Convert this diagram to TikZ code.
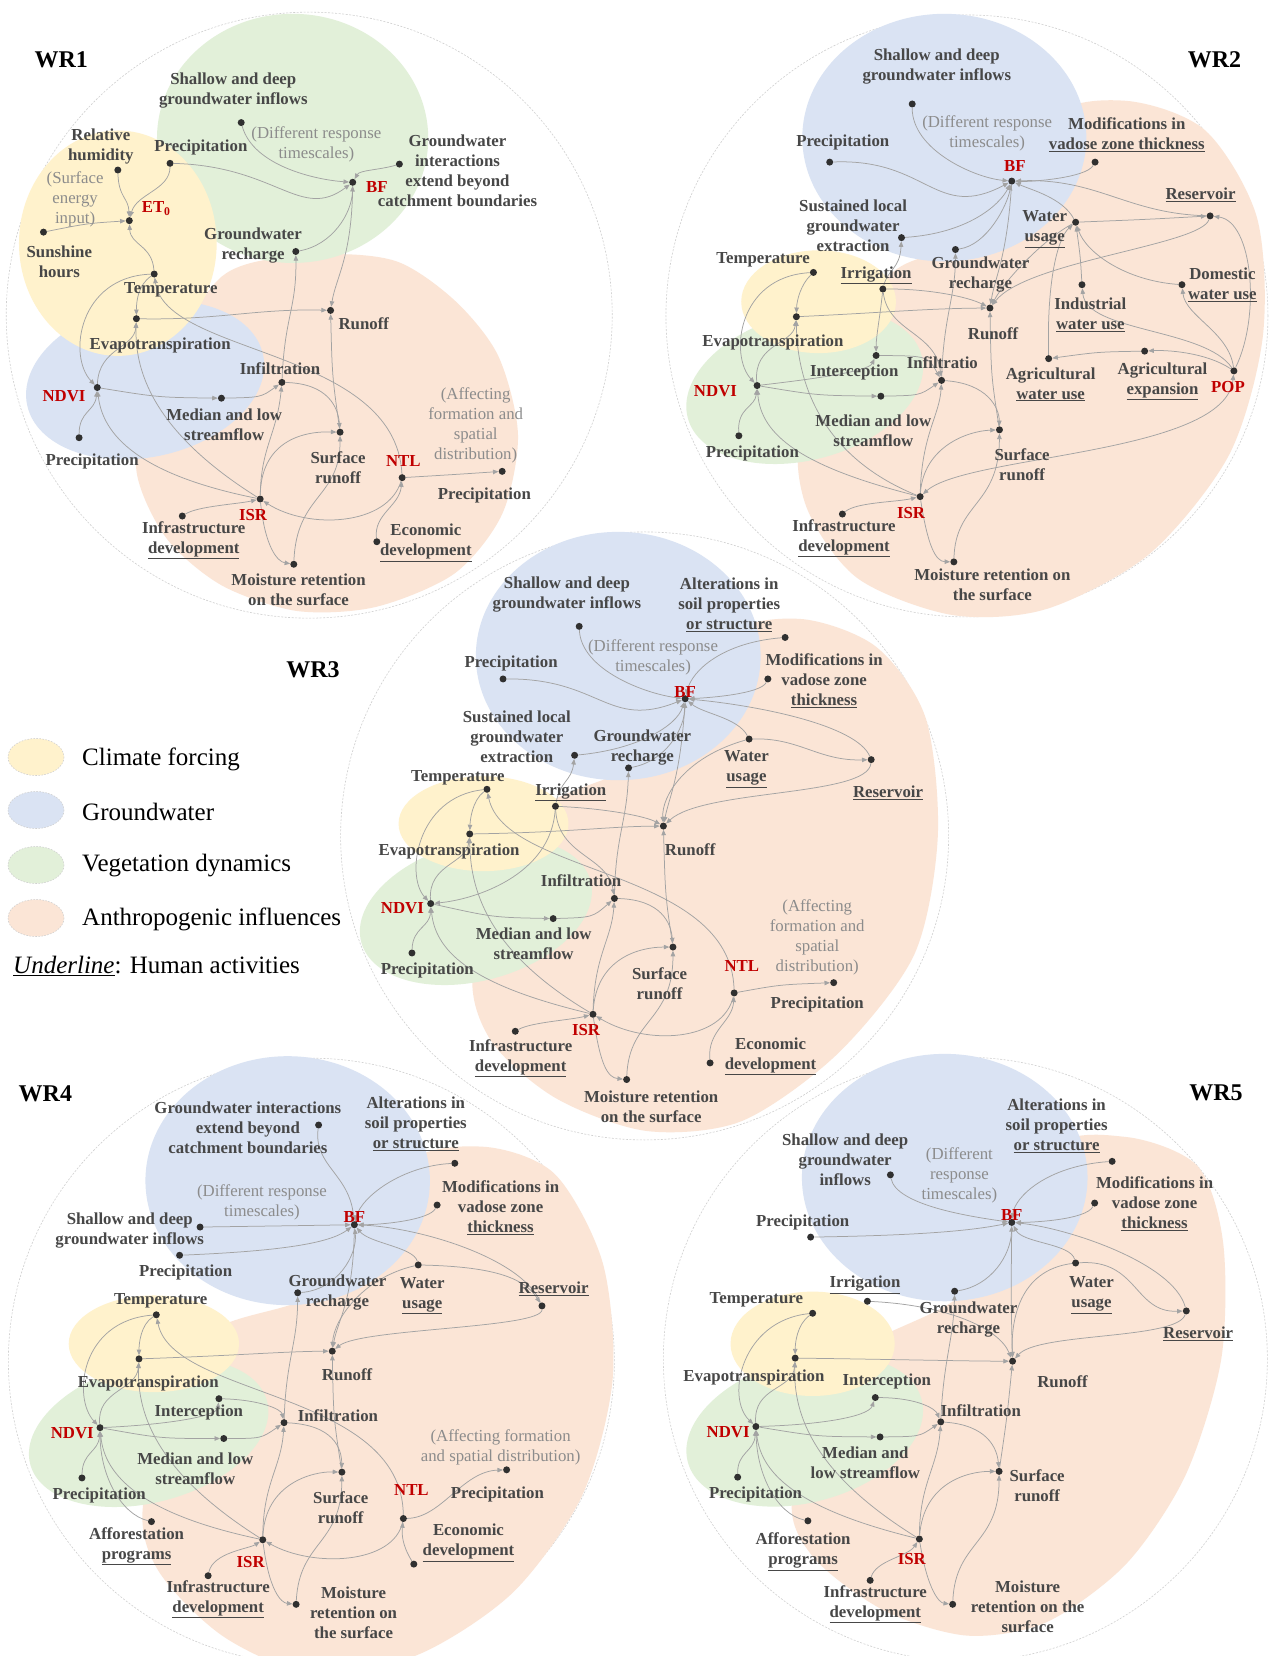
\documentclass[tikz,border=0pt]{standalone}
\usepackage{fontspec}
\setmainfont{Liberation Serif}
\usetikzlibrary{arrows.meta}
\definecolor{cyel}{HTML}{FFF2CC}
\definecolor{cblue}{HTML}{DAE3F3}
\definecolor{cgreen}{HTML}{E2F0D9}
\definecolor{cpeach}{HTML}{FBE5D6}
\definecolor{ctxt}{HTML}{474747}
\definecolor{cred}{HTML}{C00000}
\definecolor{cnote}{HTML}{8C8C8C}
\definecolor{carr}{HTML}{A3A3A3}
\definecolor{cdot}{HTML}{303030}
\definecolor{cring}{HTML}{D0D0D0}
\newcommand\dt[2]{\node[dot] (#1) at #2 {};}
\newcommand\edg[3]{\draw[ar] (#1) .. controls #2 .. (#3);}
\begin{document}
\begin{tikzpicture}[x=1pt,y=-1pt,
  dot/.style={circle, fill=cdot, inner sep=0pt, minimum size=7pt},
  lbl/.style={font=\bfseries\fontsize{16.8}{20}\selectfont, text=ctxt, align=center, inner sep=0pt},
  rlbl/.style={lbl, text=cred},
  note/.style={font=\fontsize{16.8}{20}\selectfont, text=cnote, align=center, inner sep=0pt},
  ttl/.style={font=\bfseries\fontsize{24}{28}\selectfont, text=black, inner sep=0pt},
  leg/.style={font=\fontsize{25}{30}\selectfont, text=black, anchor=west, inner sep=0pt},
  ring/.style={fill=white, draw=cring, line width=0.6pt, dash pattern=on 2pt off 1.5pt},
  legell/.style={draw=cring, line width=0.6pt, dash pattern=on 1.5pt off 1.5pt},
  ar/.style={draw=carr, line width=0.75pt, -{Triangle[length=5.5pt,width=4.5pt]}},
  arr2/.style={draw=carr, line width=0.75pt, {Triangle[length=5.5pt,width=4.5pt]}-{Triangle[length=5.5pt,width=4.5pt]}}]
\fill[white] (0,0) rectangle (1272,1656);
\useasboundingbox (0,0) rectangle (1272,1656);
\clip (0,0) rectangle (1272,1656);

% ================= WR1 =================
\begin{scope}[x=0.39541pt,y=-0.39541pt]
\path[ring] (782,797) circle [radius=303pt];
\fill[cpeach] plot[smooth cycle] coordinates {(560,700) (800,645) (1000,660) (1150,760) (1260,900) (1310,1100) (1270,1300) (1150,1450) (950,1535) (750,1545) (560,1480) (420,1360) (345,1190) (380,1000)};
\fill[cgreen] (740,350) ellipse [x radius=343, y radius=315];
\fill[cblue] (367,961) ellipse [x radius=305, y radius=195, rotate=12];
\fill[cyel] (298,615) ellipse [x radius=250, y radius=285];
\dt{Ash}{(610,310)} \dt{Apt}{(430,413)} \dt{Arh}{(298,430)} \dt{Aet}{(327,558)}
\dt{Asun}{(110,587)} \dt{Agwi}{(1010,415)} \dt{Abf}{(892,461)} \dt{Agwr}{(748,636)}
\dt{Atem}{(390,693)} \dt{Aevp}{(345,806)} \dt{Aro}{(836,785)} \dt{Ainf}{(713,967)}
\dt{Andvi}{(246,980)} \dt{Amed}{(560,1007)} \dt{Apl}{(200,1107)} \dt{Asr}{(860,1093)}
\dt{Antl}{(1017,1208)} \dt{Apr}{(1270,1192)} \dt{Aisr}{(658,1262)} \dt{Ainfra}{(461,1305)}
\dt{Aeco}{(953,1370)} \dt{Amo}{(743,1427)}
\edg{Ash}{(640,420) and (800,455)}{Abf}
\edg{Apt}{(700,420) and (760,560)}{Abf}
\edg{Apt}{(430,480) and (345,490)}{Aet}
\edg{Arh}{(300,500) and (325,500)}{Aet}
\edg{Asun}{(220,565)}{Aet}
\edg{Atem}{(385,620) and (330,620)}{Aet}
\edg{Agwi}{(960,430) and (910,430)}{Abf}
\edg{Agwr}{(840,620) and (890,540)}{Abf}
\edg{Abf}{(890,650) and (850,700)}{Aro}
\edg{Atem}{(350,720) and (345,760)}{Aevp}
\edg{Aevp}{(550,810) and (650,780)}{Aro}
\edg{Atem}{(200,700) and (170,900)}{Andvi}
\edg{Andvi}{(250,880) and (340,880)}{Aevp}
\edg{Apl}{(200,1040) and (240,1040)}{Andvi}
\edg{Andvi}{(400,1005)}{Amed}
\edg{Amed}{(660,1005)}{Ainf}
\edg{Ainf}{(720,800) and (750,780)}{Agwr}
\edg{Ainf}{(830,970) and (855,1030)}{Asr}
\edg{Aisr}{(660,1130) and (700,1100)}{Ainf}
\edg{Aisr}{(660,1120) and (760,1090)}{Asr}
\edg{Amo}{(750,1250) and (860,1260)}{Asr}
\edg{Aisr}{(670,1380) and (700,1420)}{Amo}
\edg{Ainfra}{(500,1280) and (600,1275)}{Aisr}
\edg{Antl}{(980,1330) and (780,1340)}{Aisr}
\edg{Aeco}{(945,1300) and (1010,1280)}{Antl}
\edg{Antl}{(1150,1200)}{Apr}
\edg{Antl}{(1000,880) and (420,900)}{Atem}
\edg{Aisr}{(400,1100) and (340,950)}{Aevp}
\edg{Aisr}{(350,1200) and (260,1100)}{Andvi}
\edg{Asr}{(840,950)}{Aro}
\node[lbl] (Asht) at (590,228) {Shallow and deep\\groundwater inflows};
\node[note] (Adrt) at (800,365) {(Different response\\timescales)};
\node[lbl] (Arht) at (255,371) {Relative\\humidity};
\node[lbl] (Aptt) at (508,373) {Precipitation};
\node[note] (Asft) at (190,505) {(Surface\\energy\\input)};
\node[rlbl] (Aett) at (395,528) {ET\textsubscript{0}};
\node[lbl] (Asunt) at (150,663) {Sunshine\\hours};
\node[lbl] (Agwit) at (1157,433) {Groundwater\\interactions\\extend beyond\\catchment boundaries};
\node[rlbl] (Abft) at (953,473) {BF};
\node[lbl] (Agwrt) at (640,621) {Groundwater\\recharge};
\node[lbl] (Atemt) at (432,734) {Temperature};
\node[lbl] (Aevpt) at (405,873) {Evapotranspiration};
\node[lbl] (Arot) at (920,818) {Runoff};
\node[lbl] (Ainft) at (708,932) {Infiltration};
\node[rlbl] (Andvit) at (162,1002) {NDVI};
\node[lbl] (Amedt) at (567,1073) {Median and low\\streamflow};
\node[lbl] (Aplt) at (233,1166) {Precipitation};
\node[lbl] (Asrt) at (855,1182) {Surface\\runoff};
\node[note] (Aaft) at (1203,1077) {(Affecting\\formation and\\spatial\\distribution)};
\node[rlbl] (Antlt) at (1020,1167) {NTL};
\node[lbl] (Aprt) at (1225,1253) {Precipitation};
\node[rlbl] (Aisrt) at (640,1303) {ISR};
\node[lbl] (Ainfrat) at (490,1366) {Infrastructure\\\underline{development}};
\node[lbl] (Aecot) at (1077,1373) {Economic\\\underline{development}};
\node[lbl] (Amot) at (755,1492) {Moisture retention\\on the surface};
\node[ttl] (Attl) at (155,152) {WR1};
\end{scope}

% ================= WR2 =================
\begin{scope}[shift={(650pt,0pt)},x=0.39667pt,y=-0.39541pt]
\path[ring] (799,799) circle [radius=301pt];
\fill[cpeach] plot[smooth cycle] coordinates {(1000,300) (1200,255) (1400,330) (1530,550) (1545,850) (1460,1150) (1260,1400) (1000,1540) (760,1555) (520,1460) (390,1270) (390,1050) (600,700) (800,600)};
\fill[cblue] (742,348) ellipse [x radius=358, y radius=313];
\fill[cgreen] (390,978) ellipse [x radius=305, y radius=185, rotate=15];
\fill[cyel] (425,763) ellipse [x radius=195, y radius=130];
\dt{Bsh}{(661,263)} \dt{Bpt}{(453,410)} \dt{Bmod}{(1122,410)} \dt{Bbf}{(912,458)}
\dt{Bres}{(1412,546)} \dt{Bslg}{(634,601)} \dt{Bwu}{(1073,562)} \dt{Bgwr}{(770,631)}
\dt{Btem}{(412,689)} \dt{Birr}{(587,731)} \dt{Biwu}{(1089,720)} \dt{Bdwu}{(1341,720)}
\dt{Bro}{(857,779)} \dt{Bevp}{(369,801)} \dt{Bint}{(570,899)} \dt{Bawu}{(1005,907)}
\dt{Baex}{(1247,888)} \dt{Bpop}{(1472,938)} \dt{Binf}{(735,962)} \dt{Bndvi}{(270,975)}
\dt{Bmed}{(582,1002)} \dt{Bpl}{(224,1102)} \dt{Bsr}{(881,1087)} \dt{Bisr}{(681,1256)}
\dt{Binfra}{(485,1300)} \dt{Bmo}{(766,1421)}
\edg{Bsh}{(660,380) and (820,450)}{Bbf}
\edg{Bpt}{(700,400) and (720,560)}{Bbf}
\edg{Bmod}{(1100,450) and (960,460)}{Bbf}
\edg{Bres}{(1200,540) and (1130,450)}{Bbf}
\edg{Bslg}{(800,590) and (880,520)}{Bbf}
\edg{Bgwr}{(850,620) and (900,520)}{Bbf}
\edg{Bwu}{(1040,500) and (960,480)}{Bbf}
\edg{Bbf}{(900,650) and (870,700)}{Bro}
\edg{Bwu}{(1000,600) and (900,700)}{Bro}
\edg{Bwu}{(1250,555)}{Bres}
\edg{Bres}{(1390,620) and (950,660)}{Bro}
\edg{Biwu}{(1085,650)}{Bwu}
\edg{Bdwu}{(1200,710) and (1100,640)}{Bwu}
\edg{Bawu}{(1000,700) and (1030,600)}{Bwu}
\edg{Baex}{(1130,890)}{Bawu}
\edg{Bpop}{(1400,890) and (1300,885)}{Baex}
\edg{Bpop}{(1400,830) and (1100,840)}{Biwu}
\edg{Bpop}{(1460,840) and (1350,800)}{Bdwu}
\edg{Bpop}{(1540,800) and (1520,560)}{Bres}
\draw[arr2] (Bpop) .. controls (1450,1150) and (800,1150) .. (Bisr);
\edg{Btem}{(380,720) and (370,760)}{Bevp}
\edg{Btem}{(220,700) and (200,900)}{Bndvi}
\edg{Bevp}{(600,790) and (700,780)}{Bro}
\edg{Birr}{(700,730) and (800,750)}{Bro}
\edg{Birr}{(600,680) and (630,680)}{Bslg}
\edg{Birr}{(580,800) and (570,850)}{Bint}
\edg{Birr}{(600,840) and (720,840)}{Binf}
\edg{Bint}{(700,900)}{Binf}
\edg{Bndvi}{(400,960) and (550,940)}{Bint}
\edg{Bndvi}{(260,870) and (360,870)}{Bevp}
\edg{Bpl}{(220,1030) and (265,1030)}{Bndvi}
\edg{Bndvi}{(420,1000)}{Bmed}
\edg{Bmed}{(680,1000)}{Binf}
\edg{Binf}{(740,800) and (770,750)}{Bgwr}
\edg{Binf}{(850,970) and (880,1030)}{Bsr}
\edg{Bsr}{(860,950)}{Bro}
\edg{Bisr}{(685,1100) and (730,1050)}{Binf}
\edg{Bisr}{(690,1130) and (800,1090)}{Bsr}
\edg{Bmo}{(770,1270) and (880,1280)}{Bsr}
\edg{Bisr}{(700,1380) and (720,1420)}{Bmo}
\edg{Binfra}{(520,1270) and (620,1270)}{Bisr}
\edg{Bisr}{(420,1150) and (370,950)}{Bevp}
\edg{Bisr}{(380,1180) and (280,1100)}{Bndvi}
\node[lbl] (Bsht) at (723,168) {Shallow and deep\\groundwater inflows};
\node[note] (Bdrt) at (850,337) {(Different response\\timescales)};
\node[lbl] (Bmodt) at (1202,340) {Modifications in\\\underline{vadose zone thickness}};
\node[lbl] (Bptt) at (486,360) {Precipitation};
\node[rlbl] (Bbft) at (920,420) {BF};
\node[lbl] (Brest) at (1388,492) {\underline{Reservoir}};
\node[lbl] (Bslgt) at (512,570) {Sustained local\\groundwater\\extraction};
\node[lbl] (Bwut) at (995,580) {Water\\\underline{usage}};
\node[lbl] (Btemt) at (285,656) {Temperature};
\node[lbl] (Bgwrt) at (833,694) {Groundwater\\recharge};
\node[lbl] (Birrt) at (570,696) {\underline{Irrigation}};
\node[lbl] (Bdwut) at (1443,720) {Domestic\\\underline{water use}};
\node[lbl] (Biwut) at (1110,797) {Industrial\\\underline{water use}};
\node[lbl] (Brot) at (865,844) {Runoff};
\node[lbl] (Bevpt) at (310,866) {Evapotranspiration};
\node[lbl] (Binft) at (737,918) {Infiltratio};
\node[lbl] (Bintt) at (515,943) {Interception};
\node[lbl] (Bawut) at (1010,972) {Agricultural\\\underline{water use}};
\node[lbl] (Baext) at (1292,965) {Agricultural\\\underline{expansion}};
\node[rlbl] (Bpopt) at (1457,978) {POP};
\node[rlbl] (Bndvit) at (165,990) {NDVI};
\node[lbl] (Bmedt) at (563,1089) {Median and low\\streamflow};
\node[lbl] (Bplt) at (258,1146) {Precipitation};
\node[lbl] (Bsrt) at (938,1176) {Surface\\runoff};
\node[rlbl] (Bisrt) at (658,1298) {ISR};
\node[lbl] (Binfrat) at (489,1361) {Infrastructure\\\underline{development}};
\node[lbl] (Bmot) at (863,1480) {Moisture retention on\\the surface};
\node[ttl] (Bttl) at (1423,152) {WR2};
\end{scope}

% ================= WR3 =================
\begin{scope}[shift={(340pt,-520pt)},x=0.38270pt,y=-0.39541pt]
\path[ring] (796,799) circle [radius=304pt];
\fill[cpeach] plot[smooth cycle] coordinates {(1000,300) (1200,250) (1400,320) (1530,500) (1562,800) (1500,1100) (1300,1350) (1050,1520) (800,1545) (560,1460) (390,1310) (350,1120) (500,750) (800,600)};
\fill[cblue] (727,344) ellipse [x radius=372, y radius=314];
\fill[cgreen] (355,990) ellipse [x radius=310, y radius=175, rotate=15];
\fill[cyel] (375,768) ellipse [x radius=222, y radius=120];
\dt{Csh}{(625,269)} \dt{Calt}{(1163,297)} \dt{Cpt}{(426,402)} \dt{Cmod}{(1118,402)}
\dt{Cbf}{(902,452)} \dt{Cwu}{(1069,554)} \dt{Cres}{(1388,606)} \dt{Cslg}{(613,595)}
\dt{Cgwr}{(754,627)} \dt{Ctem}{(384,681)} \dt{Cirr}{(563,724)} \dt{Cro}{(845,774)}
\dt{Cevp}{(339,794)} \dt{Cinf}{(717,957)} \dt{Cndvi}{(237,970)} \dt{Cmed}{(557,1008)}
\dt{Cpl}{(188,1095)} \dt{Csr}{(870,1080)} \dt{Cntl}{(1030,1196)} \dt{Cpr}{(1290,1170)}
\dt{Cisr}{(661,1250)} \dt{Cinfra}{(458,1293)} \dt{Ceco}{(967,1373)} \dt{Cmo}{(749,1415)}
\edg{Csh}{(630,380) and (800,440)}{Cbf}
\edg{Cpt}{(680,400) and (700,530)}{Cbf}
\edg{Calt}{(1000,310) and (920,380)}{Cbf}
\edg{Cmod}{(1100,440) and (960,450)}{Cbf}
\edg{Cres}{(1350,520) and (1100,470)}{Cbf}
\edg{Cwu}{(1040,500) and (950,490)}{Cbf}
\edg{Cwu}{(1200,550) and (1250,610)}{Cres}
\edg{Cres}{(1380,700) and (950,680)}{Cro}
\edg{Cwu}{(900,600) and (840,700)}{Cro}
\edg{Cbf}{(890,650) and (860,700)}{Cro}
\edg{Cslg}{(780,580) and (880,520)}{Cbf}
\edg{Cgwr}{(850,610) and (900,530)}{Cbf}
\edg{Cirr}{(575,660) and (605,660)}{Cslg}
\edg{Cirr}{(700,730) and (800,750)}{Cro}
\edg{Cirr}{(570,850) and (700,850)}{Cinf}
\edg{Cirr}{(550,900) and (350,960)}{Cndvi}
\edg{Ctem}{(345,710) and (340,760)}{Cevp}
\edg{Ctem}{(200,700) and (170,900)}{Cndvi}
\edg{Cevp}{(600,790) and (700,775)}{Cro}
\edg{Cndvi}{(230,870) and (330,870)}{Cevp}
\edg{Cpl}{(190,1030) and (235,1030)}{Cndvi}
\edg{Cndvi}{(400,1005)}{Cmed}
\edg{Cmed}{(660,1005)}{Cinf}
\edg{Cinf}{(720,800) and (750,760)}{Cgwr}
\edg{Cinf}{(840,960) and (865,1020)}{Csr}
\edg{Csr}{(850,950)}{Cro}
\edg{Cisr}{(665,1100) and (710,1060)}{Cinf}
\edg{Cisr}{(670,1110) and (780,1080)}{Csr}
\edg{Cmo}{(755,1260) and (870,1270)}{Csr}
\edg{Cisr}{(680,1380) and (700,1410)}{Cmo}
\edg{Cinfra}{(500,1270) and (600,1265)}{Cisr}
\edg{Cntl}{(1000,1320) and (800,1330)}{Cisr}
\edg{Ceco}{(960,1290) and (1025,1270)}{Cntl}
\edg{Cntl}{(1150,1175)}{Cpr}
\edg{Cntl}{(1020,880) and (430,900)}{Ctem}
\edg{Cisr}{(400,1100) and (340,950)}{Cevp}
\edg{Cisr}{(360,1180) and (250,1100)}{Cndvi}
\node[lbl] (Csht) at (593,188) {Shallow and deep\\groundwater inflows};
\node[lbl] (Caltt) at (1017,215) {Alterations in\\soil properties\\\underline{or structure}};
\node[note] (Cdrt) at (818,347) {(Different response\\timescales)};
\node[lbl] (Cptt) at (447,363) {Precipitation};
\node[lbl] (Cmodt) at (1265,407) {Modifications in\\vadose zone\\\underline{thickness}};
\node[rlbl] (Cbft) at (902,435) {BF};
\node[lbl] (Cslgt) at (462,547) {Sustained local\\groundwater\\extraction};
\node[lbl] (Cgwrt) at (790,576) {Groundwater\\recharge};
\node[lbl] (Cwut) at (1062,630) {Water\\\underline{usage}};
\node[lbl] (Ctemt) at (308,652) {Temperature};
\node[lbl] (Cirrt) at (603,689) {\underline{Irrigation}};
\node[lbl] (Crest) at (1432,689) {\underline{Reservoir}};
\node[lbl] (Cevpt) at (285,837) {Evapotranspiration};
\node[lbl] (Crot) at (915,833) {Runoff};
\node[lbl] (Cinft) at (630,913) {Infiltration};
\node[rlbl] (Cndvit) at (163,982) {NDVI};
\node[note] (Caft) at (1247,1055) {(Affecting\\formation and\\spatial\\distribution)};
\node[lbl] (Cmedt) at (506,1072) {Median and low\\streamflow};
\node[lbl] (Cplt) at (228,1140) {Precipitation};
\node[lbl] (Csrt) at (835,1173) {Surface\\runoff};
\node[rlbl] (Cntlt) at (1050,1127) {NTL};
\node[lbl] (Cprt) at (1247,1226) {Precipitation};
\node[rlbl] (Cisrt) at (643,1291) {ISR};
\node[lbl] (Cinfrat) at (472,1361) {Infrastructure\\\underline{development}};
\node[lbl] (Cecot) at (1125,1357) {Economic\\\underline{development}};
\node[lbl] (Cmot) at (813,1483) {Moisture retention\\on the surface};
\end{scope}
\node[ttl] (Cttl) at (313,670) {WR3};

% ================= WR4 =================
\begin{scope}[shift={(0pt,-1050pt)},x=0.40177pt,y=-0.38655pt]
\path[ring] (775,805) circle [radius=303pt];
\fill[cpeach] plot[smooth cycle] coordinates {(1000,300) (1200,250) (1380,320) (1500,550) (1525,850) (1450,1150) (1280,1400) (1050,1560) (800,1620) (560,1520) (390,1340) (360,1150) (500,750) (800,620)};
\fill[cblue] (716,338) ellipse [x radius=354, y radius=322];
\fill[cgreen] (370,990) ellipse [x radius=305, y radius=180, rotate=15];
\fill[cyel] (383,760) ellipse [x radius=212, y radius=125];
\dt{Dgwi}{(793,194)} \dt{Dalt}{(1132,293)} \dt{Dmod}{(1088,401)} \dt{Dsh}{(498,458)}
\dt{Dbf}{(882,452)} \dt{Dpt}{(447,531)} \dt{Dwu}{(1041,556)} \dt{Dgwr}{(741,628)}
\dt{Dres}{(1349,662)} \dt{Dtem}{(389,685)} \dt{Dro}{(827,779)} \dt{Devp}{(346,799)}
\dt{Dint}{(545,902)} \dt{Dinf}{(707,964)} \dt{Dndvi}{(249,977)} \dt{Dmed}{(557,1005)}
\dt{Dsr}{(851,1092)} \dt{Dpr}{(1261,1086)} \dt{Dpl}{(204,1107)} \dt{Dntl}{(1004,1212)}
\dt{Daff}{(377,1220)} \dt{Disr}{(654,1267)} \dt{Deco}{(1030,1330)} \dt{Dinfra}{(518,1360)}
\dt{Dmo}{(737,1434)}
\edg{Dgwi}{(780,300) and (870,320)}{Dbf}
\edg{Dalt}{(1000,300) and (900,380)}{Dbf}
\edg{Dmod}{(1070,440) and (950,452)}{Dbf}
\edg{Dsh}{(700,455)}{Dbf}
\edg{Dpt}{(700,520) and (820,500)}{Dbf}
\edg{Dres}{(1300,540) and (1050,460)}{Dbf}
\edg{Dwu}{(1030,510) and (920,500)}{Dbf}
\edg{Dwu}{(1200,560) and (1300,580)}{Dres}
\edg{Dres}{(1350,720) and (900,720)}{Dro}
\edg{Dwu}{(900,590) and (830,700)}{Dro}
\edg{Dbf}{(880,650) and (840,700)}{Dro}
\edg{Dgwr}{(840,620) and (890,530)}{Dbf}
\edg{Dtem}{(350,710) and (346,760)}{Devp}
\edg{Dtem}{(200,700) and (180,900)}{Dndvi}
\edg{Devp}{(600,790) and (700,780)}{Dro}
\edg{Dndvi}{(240,880) and (340,880)}{Devp}
\edg{Dndvi}{(400,970) and (540,950)}{Dint}
\edg{Dint}{(650,905) and (700,930)}{Dinf}
\edg{Dndvi}{(400,1005)}{Dmed}
\edg{Dmed}{(650,1005)}{Dinf}
\edg{Dpl}{(205,1040) and (245,1040)}{Dndvi}
\edg{Daff}{(300,1200) and (250,1100)}{Dndvi}
\edg{Dinf}{(712,800) and (740,760)}{Dgwr}
\edg{Dinf}{(830,970) and (850,1030)}{Dsr}
\edg{Dsr}{(830,950)}{Dro}
\edg{Disr}{(655,1120) and (700,1080)}{Dinf}
\edg{Disr}{(660,1120) and (780,1090)}{Dsr}
\edg{Dmo}{(745,1270) and (850,1280)}{Dsr}
\edg{Disr}{(670,1400) and (700,1430)}{Dmo}
\edg{Dinfra}{(530,1300) and (620,1290)}{Disr}
\edg{Dntl}{(980,1330) and (780,1340)}{Disr}
\edg{Deco}{(1000,1280) and (1000,1250)}{Dntl}
\edg{Dntl}{(1100,1210) and (1150,1090)}{Dpr}
\edg{Dntl}{(1000,880) and (430,900)}{Dtem}
\edg{Disr}{(400,1100) and (340,950)}{Devp}
\edg{Disr}{(350,1200) and (260,1100)}{Dndvi}
\node[ttl] (Dttl) at (113,112) {WR4};
\node[lbl] (Dgwit) at (617,201) {Groundwater interactions\\extend beyond\\catchment boundaries};
\node[lbl] (Daltt) at (1035,192) {Alterations in\\soil properties\\\underline{or structure}};
\node[note] (Ddrt) at (652,394) {(Different response\\timescales)};
\node[lbl] (Dmodt) at (1246,408) {Modifications in\\vadose zone\\\underline{thickness}};
\node[lbl] (Dsht) at (323,467) {Shallow and deep\\groundwater inflows};
\node[rlbl] (Dbft) at (882,433) {BF};
\node[lbl] (Dptt) at (462,575) {Precipitation};
\node[lbl] (Dgwrt) at (840,628) {Groundwater\\recharge};
\node[lbl] (Dwut) at (1051,636) {Water\\\underline{usage}};
\node[lbl] (Drest) at (1378,617) {\underline{Reservoir}};
\node[lbl] (Dtemt) at (400,649) {Temperature};
\node[lbl] (Drot) at (864,841) {Runoff};
\node[lbl] (Devpt) at (369,862) {Evapotranspiration};
\node[lbl] (Dintt) at (495,937) {Interception};
\node[lbl] (Dinft) at (841,947) {Infiltration};
\node[rlbl] (Dndvit) at (180,992) {NDVI};
\node[note] (Daft) at (1246,1027) {(Affecting formation\\and spatial distribution)};
\node[lbl] (Dmedt) at (486,1082) {Median and low\\streamflow};
\node[lbl] (Dprt) at (1238,1149) {Precipitation};
\node[rlbl] (Dntlt) at (1024,1139) {NTL};
\node[lbl] (Dplt) at (247,1152) {Precipitation};
\node[lbl] (Dsrt) at (848,1184) {Surface\\runoff};
\node[lbl] (Dafft) at (340,1284) {Afforestation\\\underline{programs}};
\node[lbl] (Decot) at (1166,1275) {Economic\\\underline{development}};
\node[rlbl] (Disrt) at (624,1325) {ISR};
\node[lbl] (Dinfrat) at (543,1421) {Infrastructure\\\underline{development}};
\node[lbl] (Dmot) at (880,1455) {Moisture\\retention on\\the surface};
\end{scope}

% ================= WR5 =================
\begin{scope}[shift={(650pt,-1050pt)},x=0.39667pt,y=-0.38655pt]
\path[ring] (795,800) circle [radius=302pt];
\fill[cpeach] plot[smooth cycle] coordinates {(1000,260) (1200,225) (1380,300) (1445,500) (1440,800) (1350,1100) (1200,1330) (1000,1480) (800,1515) (590,1450) (410,1310) (360,1150) (500,800) (800,620)};
\fill[cblue] (743,330) ellipse [x radius=360, y radius=320];
\fill[cgreen] (390,985) ellipse [x radius=305, y radius=185, rotate=15];
\fill[cyel] (410,760) ellipse [x radius=207, y radius=135];
\dt{Ealt}{(1165,288)} \dt{Esh}{(606,323)} \dt{Emod}{(1121,396)} \dt{Ept}{(405,484)}
\dt{Ebf}{(912,446)} \dt{Ewu}{(1073,551)} \dt{Eirr}{(548,650)} \dt{Egwr}{(768,624)}
\dt{Eres}{(1352,675)} \dt{Etem}{(410,681)} \dt{Eevp}{(366,797)} \dt{Ero}{(914,805)}
\dt{Eint}{(568,899)} \dt{Einf}{(733,962)} \dt{Endvi}{(267,974)} \dt{Emed}{(580,1001)}
\dt{Esr}{(880,1090)} \dt{Epl}{(221,1105)} \dt{Eaff}{(398,1218)} \dt{Eisr}{(679,1265)}
\dt{Einfra}{(555,1372)} \dt{Emo}{(763,1434)}
\edg{Esh}{(620,400) and (800,430)}{Ebf}
\edg{Ept}{(650,480) and (800,470)}{Ebf}
\edg{Ealt}{(1000,300) and (920,380)}{Ebf}
\edg{Emod}{(1100,440) and (960,446)}{Ebf}
\edg{Eres}{(1320,550) and (1050,460)}{Ebf}
\edg{Ewu}{(1060,500) and (940,500)}{Ebf}
\edg{Ewu}{(1230,540) and (1220,680)}{Eres}
\edg{Eres}{(1330,750) and (980,730)}{Ero}
\edg{Ewu}{(930,570) and (910,700)}{Ero}
\edg{Ebf}{(910,650)}{Ero}
\edg{Egwr}{(860,610) and (910,530)}{Ebf}
\edg{Eirr}{(750,660) and (880,720)}{Ero}
\edg{Etem}{(370,710) and (366,760)}{Eevp}
\edg{Etem}{(230,700) and (190,900)}{Endvi}
\edg{Eevp}{(600,800) and (800,805)}{Ero}
\edg{Endvi}{(260,870) and (360,880)}{Eevp}
\edg{Endvi}{(420,970) and (550,950)}{Eint}
\edg{Eint}{(680,900) and (720,930)}{Einf}
\edg{Endvi}{(420,1000)}{Emed}
\edg{Emed}{(680,1000)}{Einf}
\edg{Epl}{(220,1040) and (262,1040)}{Endvi}
\edg{Eaff}{(320,1200) and (270,1100)}{Endvi}
\edg{Einf}{(740,800) and (765,750)}{Egwr}
\edg{Einf}{(850,970) and (875,1030)}{Esr}
\edg{Esr}{(900,950)}{Ero}
\edg{Eisr}{(680,1120) and (725,1080)}{Einf}
\edg{Eisr}{(690,1120) and (800,1090)}{Esr}
\edg{Emo}{(770,1270) and (880,1280)}{Esr}
\edg{Eisr}{(700,1400) and (730,1430)}{Emo}
\edg{Einfra}{(570,1320) and (650,1310)}{Eisr}
\edg{Eisr}{(420,1100) and (360,950)}{Eevp}
\edg{Eisr}{(380,1190) and (280,1100)}{Endvi}
\node[ttl] (Ettl) at (1427,112) {WR5};
\node[lbl] (Ealtt) at (1025,197) {Alterations in\\soil properties\\\underline{or structure}};
\node[lbl] (Esht) at (492,285) {Shallow and deep\\groundwater\\inflows};
\node[note] (Edrt) at (780,325) {(Different\\response\\timescales)};
\node[lbl] (Emodt) at (1272,397) {Modifications in\\vadose zone\\\underline{thickness}};
\node[lbl] (Eptt) at (385,445) {Precipitation};
\node[rlbl] (Ebft) at (912,428) {BF};
\node[lbl] (Eirrt) at (542,607) {\underline{Irrigation}};
\node[lbl] (Ewut) at (1113,634) {Water\\\underline{usage}};
\node[lbl] (Etemt) at (268,646) {Temperature};
\node[lbl] (Egwrt) at (803,696) {Groundwater\\recharge};
\node[lbl] (Erest) at (1382,734) {\underline{Reservoir}};
\node[lbl] (Eevpt) at (262,848) {Evapotranspiration};
\node[lbl] (Erot) at (1040,857) {Runoff};
\node[lbl] (Eintt) at (597,857) {Interception};
\node[lbl] (Einft) at (834,934) {Infiltration};
\node[rlbl] (Endvit) at (197,989) {NDVI};
\node[lbl] (Emedt) at (543,1068) {Median and\\low streamflow};
\node[lbl] (Esrt) at (976,1126) {Surface\\runoff};
\node[lbl] (Eplt) at (266,1150) {Precipitation};
\node[lbl] (Eafft) at (386,1298) {Afforestation\\\underline{programs}};
\node[rlbl] (Eisrt) at (660,1318) {ISR};
\node[lbl] (Emot) at (952,1440) {Moisture\\retention on the\\surface};
\node[lbl] (Einfrat) at (568,1433) {Infrastructure\\\underline{development}};
\end{scope}

% ================= Legend =================
\filldraw[legell, fill=cyel] (36,757) ellipse [x radius=28, y radius=18.5];
\filldraw[legell, fill=cblue] (36,810) ellipse [x radius=28, y radius=18.5];
\filldraw[legell, fill=cgreen] (36,865) ellipse [x radius=28, y radius=18.5];
\filldraw[legell, fill=cpeach] (36,918) ellipse [x radius=28, y radius=18.5];
\node[leg] (L1) at (82,759) {Climate forcing};
\node[leg] (L2) at (82,812) {Groundwater};
\node[leg] (L3) at (82,866) {Vegetation dynamics};
\node[leg] (L4) at (82,919) {Anthropogenic influences};
\node[leg] (L5) at (13,966) {\underline{\textit{Underline}}: Human activities};
\end{tikzpicture}
\end{document}
